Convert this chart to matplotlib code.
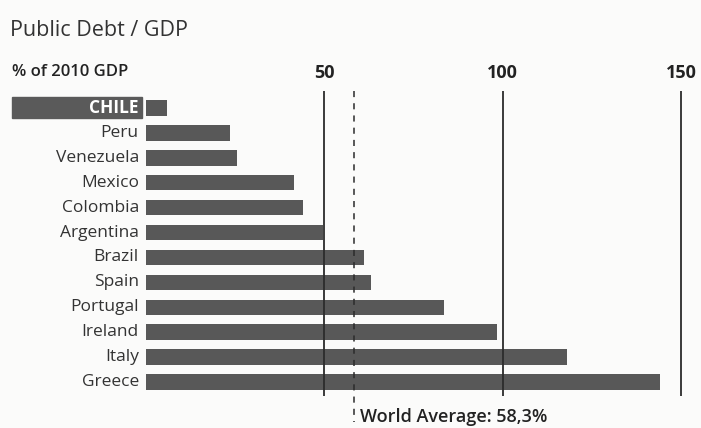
import matplotlib.pyplot as plt
from matplotlib.patches import Rectangle

plt.rcParams['font.family'] = ['Open Sans', 'DejaVu Sans']

countries = ['CHILE', 'Peru', 'Venezuela', 'Mexico', 'Colombia', 'Argentina',
             'Brazil', 'Spain', 'Portugal', 'Ireland', 'Italy', 'Greece']
debt = [6, 23.5, 25.5, 41.5, 44, 49.5, 61, 63, 83.5, 98.5, 118, 144]
grid_ticks = [50, 100, 150]
world_avg = 58.3
avg_label = 'World Average: 58,3%'

W, H = 701, 428
fig = plt.figure(figsize=(W / 100, H / 100), dpi=100)
fig.patch.set_facecolor('#fbfbfa')

# axes placed so that 0 sits at x=146px and 150 at x=681px
px_per_unit = (681 - 146) / 150
left, right, top, bottom = 146, 700, 91, 396
ax = fig.add_axes([left / W, 1 - bottom / H, (right - left) / W, (bottom - top) / H])
ax.set_xlim(0, (right - left) / px_per_unit)
ax.set_ylim(11.56, -0.68)
ax.axis('off')

ypos = list(range(len(countries)))
ax.barh(ypos, debt, height=0.62, color='#585858', zorder=2)

for t in grid_ticks:
    ax.axvline(t, color='#2b2b2b', lw=1.3, zorder=3)
    ax.text(t, -1.42, str(t), ha='center', va='center', fontsize=13,
            fontweight='bold', color='#222222', clip_on=False)

ax.vlines(world_avg, -0.68, 12.6, colors='#2b2b2b', lw=1.1,
          linestyles=(0, (4, 4)), zorder=3, clip_on=False)
ax.text(world_avg + 1.8, 12.4, avg_label, ha='left', va='center', fontsize=13,
        fontweight='semibold', color='#222222', clip_on=False)

for y, name in zip(ypos, countries):
    if name == 'CHILE':
        ax.add_patch(Rectangle((-37.5, y - 0.42), 36.4, 0.84, color='#5a5a5a',
                               clip_on=False, zorder=1))
        ax.text(-2.0, y, name, ha='right', va='center', fontsize=12.5,
                fontweight='bold', color='white', clip_on=False)
    else:
        ax.text(-2.0, y, name, ha='right', va='center', fontsize=12.5,
                color='#333333', clip_on=False)

fig.text(10 / W, 1 - 30 / H, 'Public Debt / GDP', ha='left', va='center',
         fontsize=15.5, color='#333333')
fig.text(12 / W, 1 - 72 / H, '% of 2010 GDP', ha='left', va='center',
         fontsize=12, fontweight='semibold', color='#222222')

fig.savefig('out.png', dpi=100, facecolor=fig.get_facecolor())
